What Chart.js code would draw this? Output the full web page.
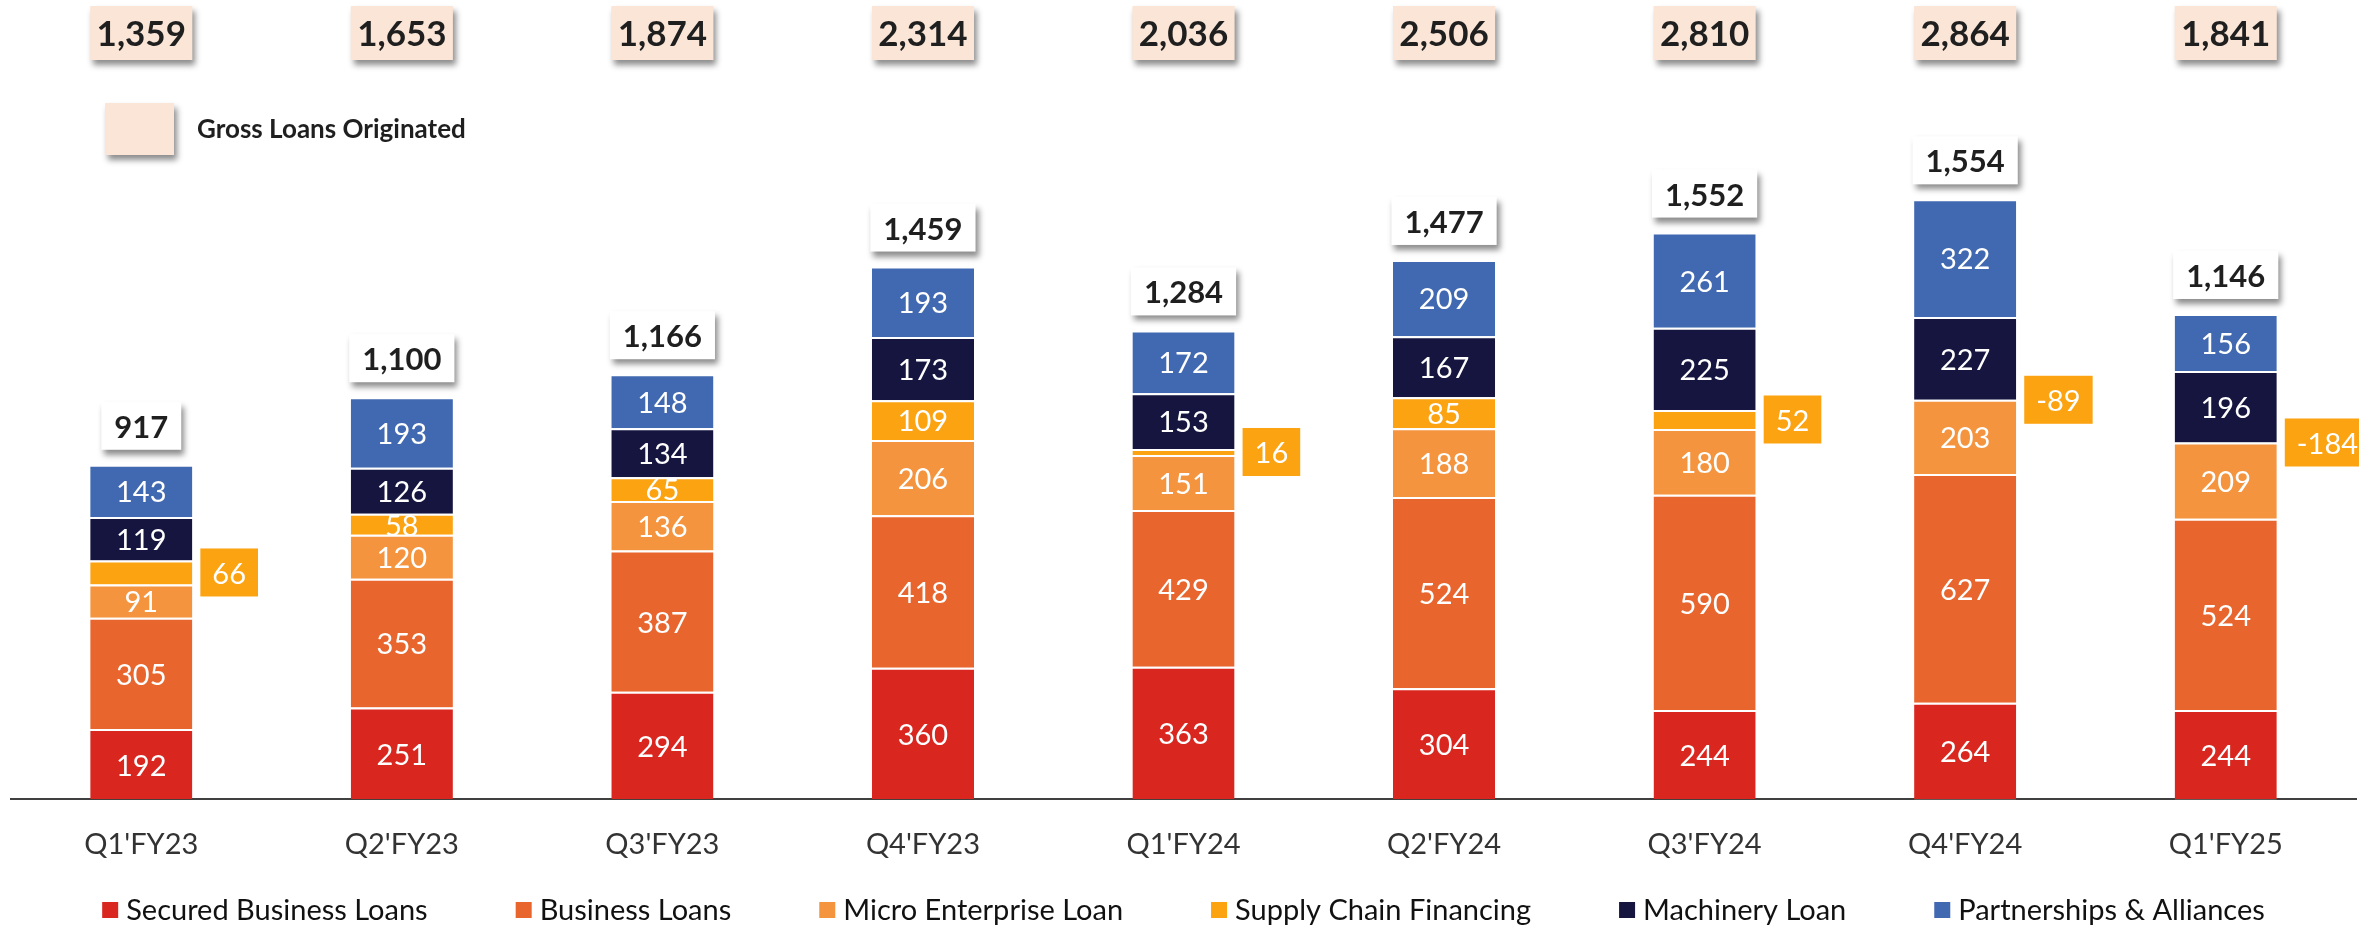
<!DOCTYPE html>
<html>
<head>
<meta charset="utf-8">
<script src="https://cdn.jsdelivr.net/npm/chart.js@4"></script>
<style>
  body { margin: 0; background: #ffffff; }
  #wrap { width: 2359px; height: 925px; }
</style>
</head>
<body>
<div id="wrap"><canvas id="loans" width="2359" height="925"></canvas></div>
<script>
// quarters and series (Rs crore)
var quarters = ["Q1'FY23", "Q2'FY23", "Q3'FY23", "Q4'FY23", "Q1'FY24", "Q2'FY24", "Q3'FY24", "Q4'FY24", "Q1'FY25"];
var securedBusiness = [192, 251, 294, 360, 363, 304, 244, 264, 244];
var businessLoans = [305, 353, 387, 418, 429, 524, 590, 627, 524];
var microEnterprise = [91, 120, 136, 206, 151, 188, 180, 203, 209];
var supplyChain = [66, 58, 65, 109, 16, 85, 52, -89, -184];
var machinery = [119, 126, 134, 173, 153, 167, 225, 227, 196];
var partnerships = [143, 193, 148, 193, 172, 209, 261, 322, 156];
var totalDisbursed = [917, 1100, 1166, 1459, 1284, 1477, 1552, 1554, 1146];
var grossOriginated = [1359, 1653, 1874, 2314, 2036, 2506, 2810, 2864, 1841];
// supply chain values shown in a side box instead of inside the bar
var supplyCallouts = ["Q1'FY23", "Q1'FY24", "Q3'FY24", "Q4'FY24", "Q1'FY25"];

var FONT = "Lato";
Chart.defaults.font.family = FONT;
Chart.defaults.color = "#262626";

function fmt(v) {
  return v.toLocaleString("en-US");
}

function shadowBox(ctx, x, y, w, h, fill) {
  ctx.save();
  ctx.shadowColor = "rgba(0,0,0,0.45)";
  ctx.shadowBlur = 6;
  ctx.shadowOffsetX = 3;
  ctx.shadowOffsetY = 5;
  ctx.fillStyle = fill;
  ctx.fillRect(x, y, w, h);
  ctx.restore();
}

var labelsPlugin = {
  id: "labelsPlugin",
  afterDatasetsDraw: function(chart) {
    var ctx = chart.ctx;
    var n = chart.data.datasets.length;
    ctx.save();
    ctx.textAlign = "center";
    ctx.textBaseline = "middle";

    // values inside segments
    chart.data.datasets.forEach(function(ds, d) {
      var meta = chart.getDatasetMeta(d);
      meta.data.forEach(function(el, i) {
        var v = ds.data[i];
        if (v <= 0) return;
        if (d === 3 && supplyCallouts.indexOf(quarters[i]) >= 0) return;
        ctx.font = "29px " + FONT;
        ctx.fillStyle = "#ffffff";
        ctx.fillText(fmt(v), el.x, (el.y + el.base) / 2 + 2);
      });
    });

    var topMeta = chart.getDatasetMeta(n - 1);
    var microMeta = chart.getDatasetMeta(2);
    var machMeta = chart.getDatasetMeta(4);

    quarters.forEach(function(q, i) {
      var el = topMeta.data[i];
      var half = el.width / 2;

      // gross loans originated row
      shadowBox(ctx, el.x - half, 6, el.width, 54, "#fbe5d6");
      ctx.font = "bold 35px " + FONT;
      ctx.fillStyle = "#1f1f1f";
      ctx.fillText(fmt(grossOriginated[i]), el.x, 35);

      // total box above the stack
      ctx.font = "bold 31px " + FONT;
      var tw = ctx.measureText(fmt(totalDisbursed[i])).width + 26;
      var by = el.y - 15 - 48;
      shadowBox(ctx, el.x - tw / 2, by, tw, 48, "#ffffff");
      ctx.fillStyle = "#1f1f1f";
      ctx.fillText(fmt(totalDisbursed[i]), el.x, by + 26);

      // supply chain side box
      if (supplyCallouts.indexOf(q) >= 0) {
        var cy = (microMeta.data[i].y + machMeta.data[i].base) / 2;
        ctx.font = "29px " + FONT;
        var cw = ctx.measureText(fmt(supplyChain[i])).width + 24;
        var cx = el.x + half + 8;
        ctx.fillStyle = "#fca311";
        ctx.fillRect(cx, cy - 24, cw, 48);
        ctx.fillStyle = "#ffffff";
        ctx.fillText(fmt(supplyChain[i]), cx + cw / 2, cy + 2);
      }
    });

    // gross loans legend key
    shadowBox(ctx, 105, 103, 69, 52, "#fbe5d6");
    ctx.textAlign = "left";
    ctx.font = "bold 26px " + FONT;
    ctx.fillStyle = "#1f1f1f";
    ctx.fillText("Gross Loans Originated", 197, 130);

    // series legend along the bottom
    ctx.font = "29px " + FONT;
    var gap = 88, box = 16, textGap = 8;
    var widths = chart.data.datasets.map(function(ds) {
      return box + textGap + ctx.measureText(ds.label).width;
    });
    var total = widths.reduce(function(a, b) { return a + b; }, 0) + gap * (widths.length - 1);
    var lx = (chart.chartArea.left + chart.chartArea.right) / 2 - total / 2;
    var ly = 910;
    chart.data.datasets.forEach(function(ds, d) {
      ctx.fillStyle = ds.backgroundColor;
      ctx.fillRect(lx, ly - 8, box, 16);
      ctx.fillStyle = "#111111";
      ctx.fillText(ds.label, lx + box + textGap, ly + 1);
      lx += widths[d] + gap;
    });
    ctx.restore();
  }
};

function series(label, data, color) {
  return {
    label: label,
    data: data,
    backgroundColor: color,
    borderColor: "#ffffff",
    borderWidth: { top: 2, bottom: 0, left: 0, right: 0 },
    borderSkipped: false,
    categoryPercentage: 0.392,
    barPercentage: 1
  };
}

new Chart(document.getElementById("loans"), {
  type: "bar",
  data: {
    labels: quarters,
    datasets: [
      series("Secured Business Loans", securedBusiness, "#d92720"),
      series("Business Loans", businessLoans, "#e8652e"),
      series("Micro Enterprise Loan", microEnterprise, "#f4943f"),
      series("Supply Chain Financing", supplyChain, "#fca311"),
      series("Machinery Loan", machinery, "#151540"),
      series("Partnerships & Alliances", partnerships, "#4169b1")
    ]
  },
  options: {
    responsive: false,
    animation: false,
    devicePixelRatio: 1,
    layout: { padding: { top: 69, left: 11, right: 3, bottom: 35 } },
    plugins: {
      legend: { display: false },
      tooltip: { enabled: false },
      title: { display: false }
    },
    scales: {
      x: {
        stacked: true,
        grid: { display: false, drawTicks: false },
        border: { display: true, color: "#404040", width: 2 },
        ticks: { padding: 28, font: { size: 29 }, color: "#333333" }
      },
      y: {
        stacked: true,
        display: false,
        min: 0,
        max: 2000
      }
    }
  },
  plugins: [labelsPlugin]
});
</script>
</body>
</html>
